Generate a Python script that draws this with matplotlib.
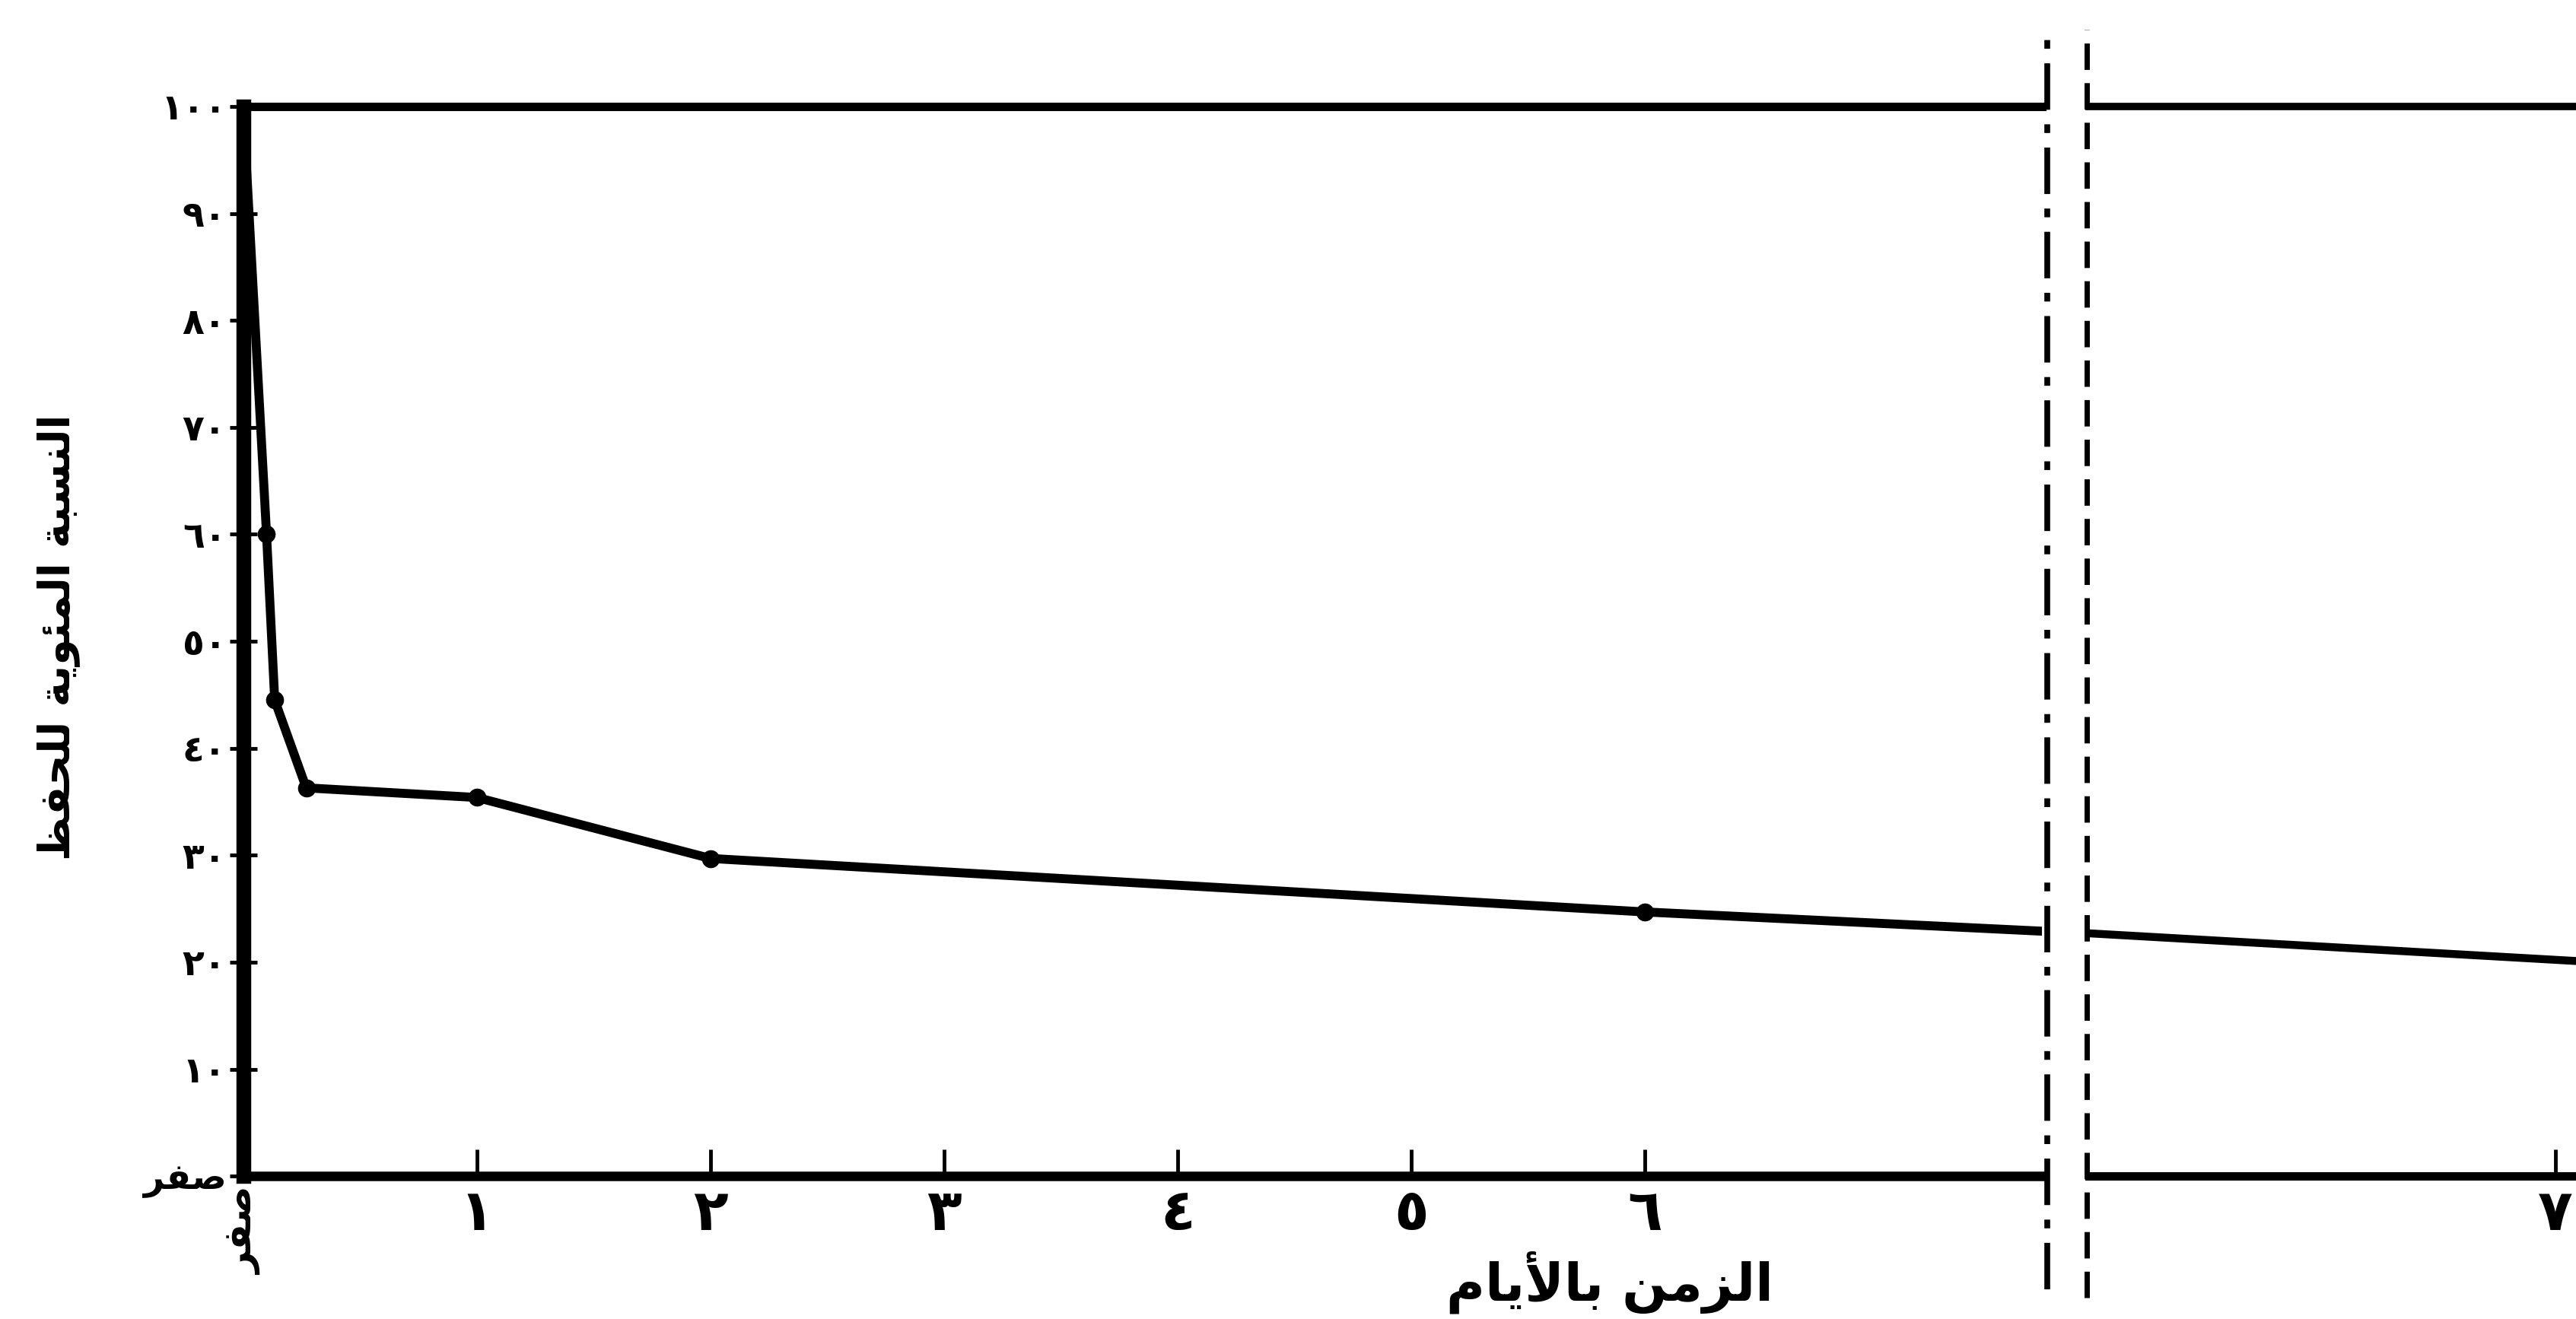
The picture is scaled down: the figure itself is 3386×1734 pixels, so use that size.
import matplotlib
matplotlib.use("Agg")
import matplotlib.pyplot as plt
from matplotlib.lines import Line2D

plt.rcParams['font.family'] = ['DejaVu Sans']

# arabic text, already shaped (presentation forms) and in visual order
# "النسبة المئوية للحفظ"
ylabel_txt = "\uFEC6\uFED4\uFEA4\uFEE0\uFEDF \uFE94\uFEF3\uFEEE\uFE8C\uFEE4\uFEDF\uFE8D \uFE94\uFE92\uFEB4\uFEE8\uFEDF\uFE8D"
# "الزمن بالأيام"
xlabel_txt = "\uFEE1\uFE8E\uFEF3\uFEF7\uFE8E\uFE91 \uFEE6\uFEE3\uFEB0\uFEDF\uFE8D"
# "صفر"
zero_txt = "\uFEAE\uFED4\uFEBB"

# data - left part (days)
days = [0, 0.10, 0.135, 0.27, 1, 2, 6, 7.7]
kept = [100, 60, 44.5, 36.3, 35.4, 29.7, 24.7, 22.9]
marked = [False, True, True, True, True, True, True, False]

# data - right part after the break
weeks = [1, 7.3]
kept2 = [22.7, 20.1]

xticks = [0, 1, 2, 3, 4, 5, 6]
xticklabels = [zero_txt, "١", "٢", "٣", "٤", "٥", "٦"]
yticks = [0, 10, 20, 30, 40, 50, 60, 70, 80, 90, 100]
yticklabels = [zero_txt, "١٠", "٢٠", "٣٠", "٤٠", "٥٠", "٦٠", "٧٠", "٨٠", "٩٠", "١٠٠"]
xticks2 = [7]
xticklabels2 = ["٧"]

fig = plt.figure(figsize=(33.86, 17.34), dpi=100)
fig.patch.set_facecolor("white")

ax1 = fig.add_axes([0.0944, 0.1083, 0.6983, 0.811])
ax2 = fig.add_axes([0.811, 0.1083, 0.190, 0.811])

# left panel
ax1.plot(days, kept, color="black", lw=8.5, solid_joinstyle="round")
mx = [d for d, m in zip(days, marked) if m]
my = [k for k, m in zip(kept, marked) if m]
ax1.plot(mx, my, "o", color="black", ms=16)
ax1.set_xlim(0, 7.7)
ax1.set_ylim(0, 100)
ax1.spines["right"].set_visible(False)
ax1.spines["left"].set_linewidth(14)
ax1.spines["top"].set_linewidth(8)
ax1.spines["bottom"].set_linewidth(9)
ax1.set_xticks(xticks)
ax1.set_xticklabels(xticklabels)
ax1.set_yticks(yticks)
ax1.set_yticklabels(yticklabels)
ax1.tick_params(axis="x", direction="in", length=25, width=3.5, labelsize=54, pad=10)
ax1.tick_params(axis="y", direction="inout", length=26, width=3.5, labelsize=34, pad=3)
for lab in ax1.get_xticklabels() + ax1.get_yticklabels():
    lab.set_fontweight("bold")
ax1.get_xticklabels()[0].set_rotation(90)
ax1.get_xticklabels()[0].set_fontsize(36)

# right panel
ax2.plot(weeks, kept2, color="black", lw=7.5)
ax2.set_xlim(1, 7.3)
ax2.set_ylim(0, 100)
ax2.spines["right"].set_visible(False)
ax2.spines["left"].set_visible(False)
ax2.spines["top"].set_linewidth(7)
ax2.spines["bottom"].set_linewidth(8)
ax2.set_yticks([])
ax2.set_xticks(xticks2)
ax2.set_xticklabels(xticklabels2, fontweight="bold")
ax2.tick_params(axis="x", direction="in", length=25, width=3.5, labelsize=54, pad=10)

# break marks
fig.add_artist(Line2D([0.7946, 0.7946], [0.0224, 0.9726], color="black", lw=5.5,
                      linestyle=(0, (8, 2.5, 1.5, 2.5))))
fig.add_artist(Line2D([0.810, 0.810], [0.0162, 0.9776], color="black", lw=5,
                      linestyle=(0, (5, 2.5))))

# axis titles
fig.text(0.0225, 0.517, ylabel_txt, rotation=90, fontsize=40, fontweight="bold",
         ha="center", va="center")
fig.text(0.625, 0.028, xlabel_txt, fontsize=50, fontweight="bold",
         ha="center", va="center")

fig.savefig("out.png", dpi=100, facecolor="white")
